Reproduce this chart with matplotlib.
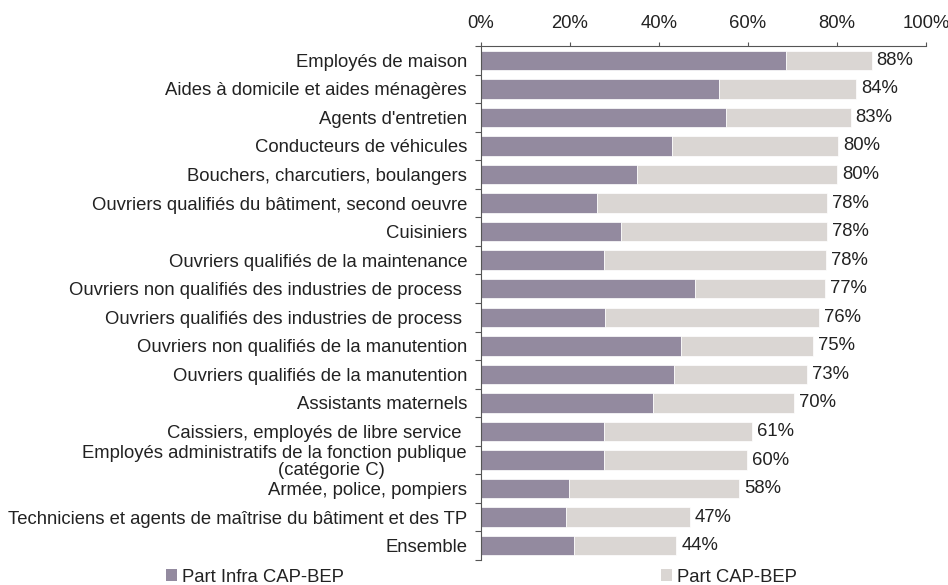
import matplotlib
matplotlib.use("Agg")
import matplotlib.pyplot as plt
import numpy as np
from matplotlib.patches import Patch

categories = [
    "Employés de maison",
    "Aides à domicile et aides ménagères",
    "Agents d'entretien",
    "Conducteurs de véhicules",
    "Bouchers, charcutiers, boulangers",
    "Ouvriers qualifiés du bâtiment, second oeuvre",
    "Cuisiniers",
    "Ouvriers qualifiés de la maintenance",
    "Ouvriers non qualifiés des industries de process ",
    "Ouvriers qualifiés des industries de process ",
    "Ouvriers non qualifiés de la manutention",
    "Ouvriers qualifiés de la manutention",
    "Assistants maternels",
    "Caissiers, employés de libre service ",
    "Employés administratifs de la fonction publique\n(catégorie C)                ",
    "Armée, police, pompiers",
    "Techniciens et agents de maîtrise du bâtiment et des TP",
    "Ensemble",
]
part_infra = [68.5, 53.4, 55.0, 43.0, 35.0, 26.0, 31.5, 27.6, 48.2, 27.8,
              44.9, 43.4, 38.7, 27.6, 27.6, 19.7, 19.0, 21.0]
part_cap = [19.3, 30.9, 28.1, 37.3, 45.0, 51.8, 46.2, 50.0, 29.2, 48.1,
            29.8, 29.8, 31.7, 33.3, 32.2, 38.3, 27.9, 22.9]
xticks = [0, 20, 40, 60, 80, 100]
series_names = ["Part Infra CAP-BEP", "Part CAP-BEP"]

c_infra = "#938a9f"
c_cap = "#dad6d3"
FS = 13.3

plt.rcParams['font.family'] = ['Liberation Sans', 'DejaVu Sans']
fig = plt.figure(figsize=(9.48, 5.85), dpi=100)
ax = fig.add_axes([481/948, 1-560/585, (926-481)/948, (560-46)/585])

y = np.arange(len(categories))
ax.barh(y, part_infra, height=0.68, color=c_infra, edgecolor='white', linewidth=0.5)
ax.barh(y, part_cap, left=part_infra, height=0.68, color=c_cap, edgecolor='white', linewidth=0.5)

for yi, a, b in zip(y, part_infra, part_cap):
    tot = a + b
    ax.annotate(f"{round(tot):d}%", (tot, yi), xytext=(3.5, 0), textcoords='offset points',
                va='center', ha='left', fontsize=FS, color='#222222')

ax.set_xlim(0, 100)
ax.set_ylim(len(categories) - 0.5, -0.5)
ax.xaxis.tick_top()
ax.set_xticks(xticks)
ax.set_xticklabels([f"{v}%" for v in xticks], fontsize=FS, color='#222222')
ax.tick_params(axis='x', direction='out', length=3, width=0.8, color='#555555', pad=7)

ax.set_yticks(y)
ax.set_yticklabels(categories, fontsize=FS, color='#222222')
for t in ax.get_yticklabels():
    t.set_multialignment('right')
    t.set_linespacing(1.0)
ax.tick_params(axis='y', which='major', length=0, pad=10)
ax.set_yticks(np.arange(-0.5, len(categories), 1), minor=True)
ax.tick_params(axis='y', which='minor', direction='out', length=4, width=0.8, color='#555555')

for s in ['right', 'bottom']:
    ax.spines[s].set_visible(False)
for s in ['left', 'top']:
    ax.spines[s].set_color('#555555')
    ax.spines[s].set_linewidth(0.8)

handles = [Patch(facecolor=c_infra, label=series_names[0]),
           Patch(facecolor=c_cap, label=series_names[1])]
fig.legend(handles=handles, loc='center left', bbox_to_anchor=(166/948, 1-577/585), ncol=2,
           frameon=False, fontsize=FS, handlelength=0.6, handleheight=0.6,
           handletextpad=0.25, columnspacing=17.2, borderpad=0, borderaxespad=0)
for t in fig.legends[0].get_texts():
    t.set_color('#222222')

fig.savefig("out.png", dpi=100)
